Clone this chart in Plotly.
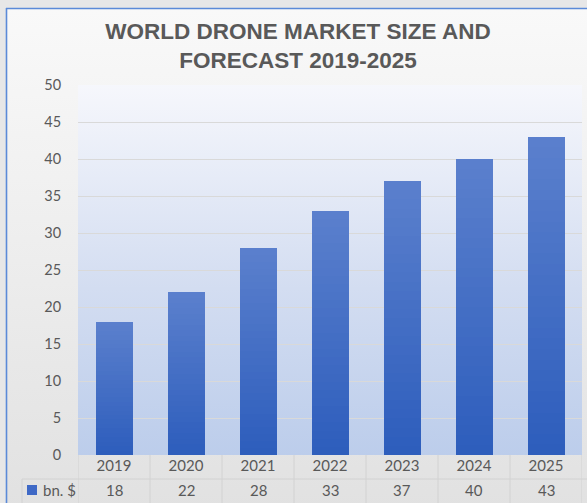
import base64
import plotly.graph_objects as go

# ---- data ----
years = ["2019", "2020", "2021", "2022", "2023", "2024", "2025"]
values = [18, 22, 28, 33, 37, 40, 43]
series_name = "bn. $"
title_text = "WORLD DRONE MARKET SIZE AND<br>FORECAST 2019-2025"
y_ticks = [0, 5, 10, 15, 20, 25, 30, 35, 40, 45, 50]

# ---- style ----
W, H = 587, 503
ML, MR, MT, MB = 78, 5, 85, 48
PW, PH = W - ML - MR, H - MT - MB
TXT = "#595959"
FONT = "Lato, 'Open Sans', sans-serif"
BAR_TOP = (0x5B, 0x80, 0xCD)
BAR_BOT = (0x2D, 0x5D, 0xBC)
N_SEG = 30

pos = list(range(len(years)))


def px2paper_x(px):
    return (px - ML) / PW


def px2paper_y(py):
    return (H - MB - py) / PH


def svg_uri(svg):
    return "data:image/svg+xml;base64," + base64.b64encode(svg.encode()).decode()


bg_svg = f"""<svg xmlns='http://www.w3.org/2000/svg' width='{W}' height='{H}' viewBox='0 0 {W} {H}' preserveAspectRatio='none'>
<defs><linearGradient id='g' x1='0' y1='0' x2='0' y2='1'>
<stop offset='0' stop-color='#f9f9f9'/><stop offset='1' stop-color='#e1e1e1'/></linearGradient></defs>
<rect x='0' y='0' width='{W}' height='{H}' fill='#e7e7e7'/>
<rect x='7' y='9' width='{W}' height='{H}' fill='url(#g)'/>
<line x1='6.5' y1='8' x2='6.5' y2='{H}' stroke='#5b8ad8' stroke-width='1.6'/>
<line x1='6' y1='8.5' x2='{W}' y2='8.5' stroke='#5b8ad8' stroke-width='1.6'/>
</svg>"""

plot_svg = """<svg xmlns='http://www.w3.org/2000/svg' width='100' height='100' viewBox='0 0 100 100' preserveAspectRatio='none'>
<defs><linearGradient id='p' x1='0' y1='0' x2='0' y2='1'>
<stop offset='0' stop-color='#f6f7fc'/><stop offset='0.55' stop-color='#d3ddf1'/><stop offset='1' stop-color='#bccdeb'/></linearGradient></defs>
<rect x='0' y='0' width='100' height='100' fill='url(#p)'/></svg>"""

fig = go.Figure()


def lerp(c1, c2, t):
    return "rgb(%d,%d,%d)" % tuple(round(a + (b - a) * t) for a, b in zip(c1, c2))


# per-bar vertical gradient: each bar drawn as stacked slices of its own value
for k in range(N_SEG):
    t = (k + 0.5) / N_SEG
    fig.add_trace(go.Bar(
        x=pos,
        y=[v / N_SEG for v in values],
        marker=dict(color=lerp(BAR_BOT, BAR_TOP, t), line=dict(width=0)),
        showlegend=False,
        hoverinfo="skip",
    ))

annotations = []
# data table value row
for p, v in zip(pos, values):
    annotations.append(dict(
        x=p, xref="x", y=px2paper_y(490), yref="paper",
        text=str(v), showarrow=False, xanchor="center", yanchor="middle",
        font=dict(family=FONT, size=15, color=TXT),
    ))
annotations.append(dict(
    x=px2paper_x(41), xref="paper", y=px2paper_y(489.5), yref="paper",
    text=series_name, showarrow=False, xanchor="left", yanchor="middle",
    font=dict(family=FONT, size=15, color=TXT),
))

LINE = "#d2d2d2"
shapes = []
n = len(years)
for i in range(n + 1):
    shapes.append(dict(type="line", xref="x", yref="paper",
                       x0=i - 0.5, x1=i - 0.5, y0=0, y1=px2paper_y(H + 2),
                       line=dict(color=LINE, width=1)))
shapes.append(dict(type="line", xref="paper", yref="paper",
                   x0=px2paper_x(22), x1=px2paper_x(W + 2),
                   y0=px2paper_y(479), y1=px2paper_y(479),
                   line=dict(color=LINE, width=1)))
shapes.append(dict(type="line", xref="paper", yref="paper",
                   x0=px2paper_x(22), x1=px2paper_x(22),
                   y0=px2paper_y(479), y1=px2paper_y(H + 2),
                   line=dict(color=LINE, width=1)))
# legend key
shapes.append(dict(type="rect", xref="paper", yref="paper",
                   x0=px2paper_x(27), x1=px2paper_x(37),
                   y0=px2paper_y(495), y1=px2paper_y(485),
                   fillcolor="#3f69c6", line=dict(width=0)))

images = [
    dict(source=svg_uri(bg_svg), xref="paper", yref="paper",
         x=px2paper_x(0), y=px2paper_y(0), sizex=W / PW, sizey=H / PH,
         xanchor="left", yanchor="top", sizing="stretch", layer="below"),
    dict(source=svg_uri(plot_svg), xref="paper", yref="paper",
         x=0, y=1, sizex=1, sizey=1,
         xanchor="left", yanchor="top", sizing="stretch", layer="below"),
]

fig.update_layout(
    width=W, height=H, autosize=False,
    margin=dict(l=ML, r=MR, t=MT, b=MB, pad=0),
    paper_bgcolor="#e7e7e7",
    plot_bgcolor="rgba(0,0,0,0)",
    barmode="stack",
    bargap=0.486,
    title=dict(text=title_text, x=298 / W, xanchor="center", xref="container",
               y=1 - 38.5 / H, yanchor="middle", yref="container",
               font=dict(family="'Liberation Sans', Arial, sans-serif", size=22.5,
                         color=TXT, weight="bold")),
    xaxis=dict(range=[-0.5, n - 0.5], tickvals=pos, ticktext=years,
               showgrid=False, zeroline=False, showline=False,
               ticks="", tickfont=dict(family=FONT, size=15, color=TXT)),
    yaxis=dict(range=[0, 50], tickvals=y_ticks, showgrid=True, gridcolor="#d9d9d9",
               gridwidth=1, zeroline=False, showline=False,
               ticks="outside", ticklen=13, tickcolor="rgba(0,0,0,0)",
               tickfont=dict(family=FONT, size=14.5, color=TXT)),
    annotations=annotations,
    shapes=shapes,
    images=images,
)

fig.write_html("out.html", config={"displayModeBar": False},
               post_script="document.body.style.margin='0';document.body.style.overflow='hidden';")
